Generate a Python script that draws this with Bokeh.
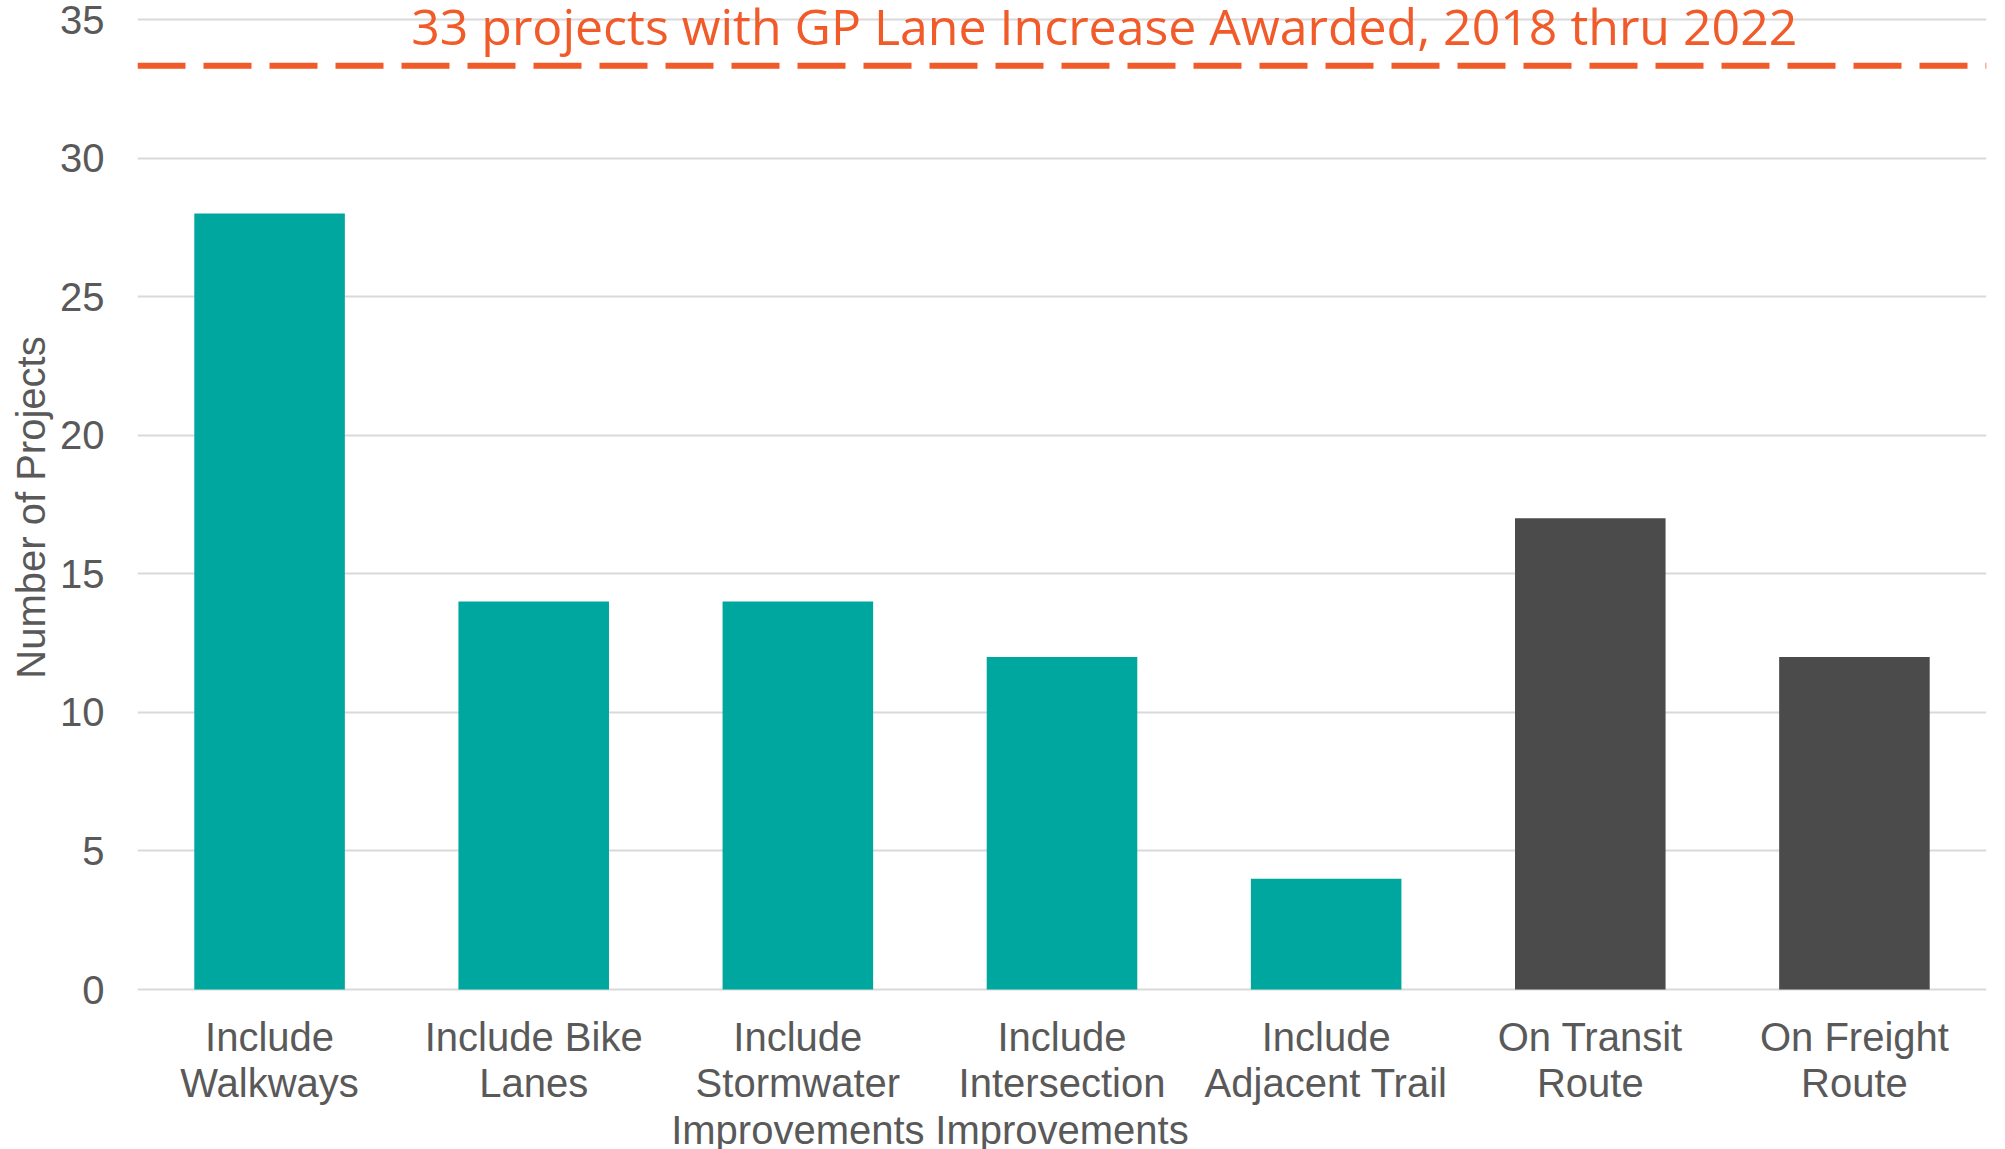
from bokeh.plotting import figure
from bokeh.layouts import column
from bokeh.models import Range1d, FactorRange, Span, Label, SingleIntervalTicker
from bokeh.core.properties import value
from bokeh.embed import file_html
from bokeh.resources import INLINE

categories = ["Include\nWalkways", "Include Bike\nLanes", "Include\nStormwater\nImprovements",
              "Include\nIntersection\nImprovements", "Include\nAdjacent Trail",
              "On Transit\nRoute", "On Freight\nRoute"]
values = [28, 14, 14, 12, 4, 17, 12]
bar_colors = ["#00A79F", "#00A79F", "#00A79F", "#00A79F", "#00A79F", "#4B4B4B", "#4B4B4B"]
dashed_line_level = 33.33  # (line marks the 33 awarded projects)
annotation_text = "33 projects with GP Lane Increase Awarded, 2018 thru 2022"

ORANGE = "#F15A29"
GRAY = "#595959"
W = 1989

# main chart
p = figure(width=W, height=1014, x_range=FactorRange(factors=categories),
           y_range=Range1d(-0.902, 35.686), output_backend="svg", toolbar_location=None,
           min_border_left=137, min_border_right=3, min_border_top=0, min_border_bottom=0)
p.outline_line_color = None
p.background_fill_color = "white"

p.vbar(x=categories, top=values, bottom=0, width=0.57, fill_color=bar_colors, line_color=None)

p.add_layout(Span(location=dashed_line_level, dimension="width", line_color=ORANGE,
                  line_width=6, line_dash="48 18"))
p.add_layout(Label(x=3.66, y=34.765, text=annotation_text, text_align="center",
                   text_baseline="middle", text_color=ORANGE, text_font="Open Sans",
                   text_font_size="50px"))

p.xaxis.visible = False
p.xgrid.grid_line_color = None
p.ygrid.grid_line_color = "#D9D9D9"
p.ygrid.grid_line_width = 2
p.yaxis.ticker = SingleIntervalTicker(interval=5)
p.yaxis.axis_line_color = None
p.yaxis.major_tick_line_color = None
p.yaxis.minor_tick_line_color = None
p.yaxis.major_tick_out = 0
p.yaxis.major_tick_in = 0
p.yaxis.minor_tick_out = 0
p.yaxis.major_label_text_font = "Liberation Sans"
p.yaxis.major_label_text_font_size = "40px"
p.yaxis.major_label_text_color = GRAY
p.yaxis.major_label_standoff = 33
p.yaxis.axis_label = "Number of Projects"
p.yaxis.axis_label_text_font = "Liberation Sans"
p.yaxis.axis_label_text_font_size = "40px"
p.yaxis.axis_label_text_font_style = "normal"
p.yaxis.axis_label_text_color = GRAY
p.yaxis.axis_label_standoff = 4

# category labels strip under the chart, sharing the categorical x scale
p2 = figure(width=W, height=135, x_range=p.x_range, y_range=Range1d(-135, 0),
            output_backend="svg", toolbar_location=None,
            min_border_left=137, min_border_right=3, min_border_top=0, min_border_bottom=0)
p2.outline_line_color = None
p2.axis.visible = False
p2.grid.visible = False
p2.text(x=categories, y=0, text=categories, text_align="center", text_baseline="top",
        text_font=value("Liberation Sans"), text_font_size="40px", text_color=GRAY,
        text_line_height=1.06)

layout = column(p, p2, spacing=0)
open("out.html", "w").write(file_html(layout, INLINE))
